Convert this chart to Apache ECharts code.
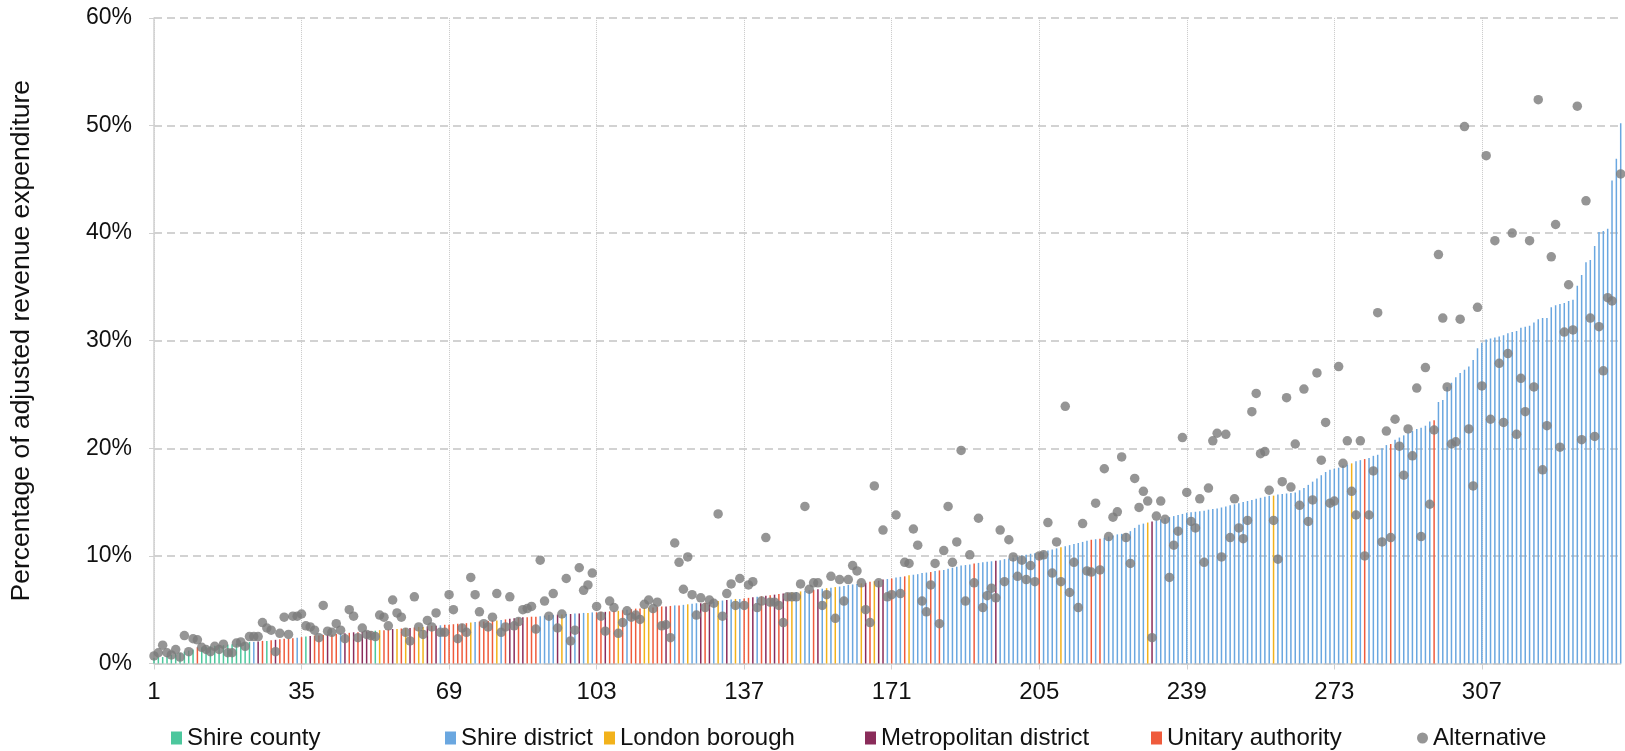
<!DOCTYPE html>
<html><head><meta charset="utf-8">
<script src="https://cdn.jsdelivr.net/npm/echarts@6/dist/echarts.min.js"></script>
<style>html,body{margin:0;padding:0;background:#fff}#c{width:1625px;height:751px}</style>
</head><body><div id="c"></div>
<script>
// Bar heights (% of adjusted revenue expenditure), categories 1..339, sorted ascending
const barValues = [
  0.5,0.6,0.6,0.7,0.8,0.9,1.0,1.1,1.2,1.3, 1.5,1.5,1.55,1.6,1.65,1.7,1.7,1.75,1.8,1.85, 1.9,1.95,2.0,2.0,2.05,2.1,2.1,2.15,2.2,2.25, 2.3,2.3,2.35,2.4,
  2.45,2.5,2.55,2.6,2.6,2.65,2.7,2.7,2.75,2.8, 2.8,2.85,2.9,2.9,2.95,3.0,3.0,3.05,3.1,3.1, 3.15,3.2,3.2,3.25,3.3,3.3,3.35,3.4,3.4,3.45, 3.5,3.5,3.55,3.6,
  3.6,3.65,3.7,3.7,3.75,3.8,3.85,3.9,3.9,3.95, 4.0,4.0,4.05,4.1,4.15,4.2,4.25,4.3,4.3,4.35, 4.35,4.4,4.45,4.5,4.5,4.55,4.55,4.6,4.6,4.65, 4.65,4.7,4.7,4.75,
  4.75,4.8,4.8,4.85,4.9,4.9,4.95,5.0,5.05,5.1, 5.1,5.15,5.2,5.2,5.25,5.3,5.3,5.35,5.4,5.4, 5.45,5.5,5.55,5.6,5.6,5.65,5.7,5.75,5.8,5.85, 5.9,5.95,6.0,6.0,
  6.05,6.1,6.15,6.2,6.25,6.3,6.35,6.4,6.45,6.5, 6.55,6.6,6.65,6.7,6.75,6.8,6.85,6.9,6.95,7.0, 7.05,7.1,7.15,7.2,7.3,7.35,7.4,7.45,7.5,7.6, 7.65,7.7,7.8,7.85,
  7.9,8.0,8.05,8.1,8.2,8.25,8.3,8.4,8.45,8.5, 8.6,8.65,8.7,8.8,8.9,9.0,9.1,9.15,9.2,9.3, 9.35,9.4,9.45,9.5,9.55,9.6,9.7,9.75,9.85,9.95, 10.05,10.1,10.2,10.25,
  10.3,10.4,10.5,10.6,10.7,10.8,10.9,11.0,11.1,11.2, 11.3,11.4,11.5,11.55,11.6,11.7,11.8,11.9,12.0,12.05, 12.1,12.3,12.6,12.9,13.0,13.1,13.2,13.3,13.4,13.5, 13.6,13.7,13.8,13.9,
  14.0,14.05,14.1,14.15,14.2,14.3,14.35,14.4,14.5,14.6, 14.7,14.8,14.9,15.0,15.1,15.2,15.3,15.4,15.5,15.6, 15.6,15.7,15.75,15.8,15.85,15.9,16.1,16.3,16.6,16.9, 17.2,17.5,17.8,18.0,
  18.1,18.2,18.4,18.5,18.6,18.8,18.9,19.0,19.1,19.3, 19.4,20.0,20.3,20.4,20.8,21.0,21.2,21.4,21.6,21.8, 21.9,22.1,22.5,22.6,24.3,24.5,25.7,26.1,26.6,27.0, 27.3,27.6,28.2,29.3,
  29.8,30.1,30.2,30.3,30.4,30.5,30.7,30.8,30.9,31.2, 31.3,31.4,31.7,32.0,32.1,32.1,33.1,33.3,33.4,33.5, 33.7,33.8,35.1,36.1,37.3,37.5,38.8,40.1,40.2,40.4, 44.9,46.9,50.2
];
// Authority type of each bar: C shire county, D shire district, L London borough, M metropolitan district, U unitary authority
const barTypes = (
  "CCCCCCCCCCUCCCCCCCCCCCCDMUCUMUUUUD" +
  "UCMUUUMUUDMUMUMMUCLUUMLULMULLMUMDU" +
  "UUUUULDUUUULDUMMUMUUUDDDDMLDMDMDLD" +
  "UUMUULUDUUULLUUUMUDUDLDDMUMDLDMDLD" +
  "UUMDUMUMUMULDLDDUMDLDLDDDDDLMULMMD" +
  "UDDULDDDDUDUDDDDDDDUDDDDMDDDDDDDDD" +
  "UDDDDLDDDDDDUDUDDDDDDDDDDLMDDDDDDD" +
  "DDDDDDDDDDDDDDDDDDDDLDDDDDDDDDDDDD" +
  "DDDDLDDUDDDDDUDDDDDDDDDUDDDDDDDDDD" +
  "DDDDDDDDDDDDDDDDDDDDDDDDDDDDDDDDD"
).split('');
// Alternative measure (grey dots), categories 1..339
const altValues = [
  0.7,1.0,1.7,1.0,0.8,1.3,0.6,2.6,1.1,2.3, 2.2,1.5,1.3,1.1,1.6,1.3,1.8,1.0,1.0,1.9, 2.0,1.6,2.5,2.5,2.5,3.8,3.3,3.1,1.1,2.8, 4.3,2.7,4.4,4.4,
  4.6,3.5,3.4,3.1,2.4,5.4,3.0,2.9,3.7,3.1, 2.3,5.0,4.4,2.4,3.3,2.7,2.6,2.5,4.5,4.3, 3.5,5.9,4.7,4.3,2.9,2.1,6.2,3.4,2.7,4.0, 3.4,4.7,2.9,2.9,
  6.4,5.0,2.3,3.3,2.9,8.0,6.4,4.8,3.7,3.4, 4.3,6.5,2.9,3.4,6.2,3.5,3.9,5.0,5.1,5.3, 3.2,9.6,5.8,4.4,6.5,3.3,4.6,7.9,2.1,3.1, 8.9,6.8,7.3,8.4,
  5.3,4.4,3.0,5.8,5.2,2.8,3.8,4.9,4.3,4.5, 4.1,5.5,5.9,5.1,5.7,3.5,3.6,2.4,11.2,9.4, 6.9,9.9,6.4,4.5,6.1,5.2,5.9,5.6,13.9,4.4, 6.5,7.4,5.4,7.9,
  5.4,7.3,7.6,5.2,5.8,11.7,5.7,5.7,5.4,3.8, 6.2,6.2,6.2,7.4,14.6,6.9,7.5,7.5,5.4,6.4, 8.1,4.2,7.8,5.8,7.8,9.1,8.6,7.5,5.0,3.8, 16.5,7.5,12.4,6.2,
  6.4,13.8,6.5,9.4,9.3,12.5,11.0,5.8,4.8,7.3, 9.3,3.7,10.5,14.6,9.4,11.3,19.8,5.8,10.1,7.5, 13.5,5.2,6.3,7.0,6.1,12.4,7.6,11.5,9.9,8.1, 9.6,7.8,9.1,7.6,
  10.0,10.1,13.1,8.4,11.3,7.6,23.9,6.6,9.4,5.2, 13.0,8.6,8.5,14.9,8.7,18.1,11.8,13.6,14.1,19.2, 11.7,9.3,17.2,14.5,16.0,15.1,2.4,13.7,15.1,13.4, 8.0,11.0,12.3,21.0,
  15.9,13.2,12.6,15.3,9.4,16.3,20.7,21.4,9.9,21.3, 11.7,15.3,12.6,11.6,13.3,23.4,25.1,19.5,19.7,16.1, 13.3,9.7,16.9,24.7,16.4,20.4,14.7,25.5,13.2,15.2, 27.0,18.9,22.4,14.9,
  15.1,27.6,18.6,20.7,16.0,13.8,20.7,10.0,13.8,17.9, 32.6,11.3,21.6,11.7,22.7,20.2,17.5,21.8,19.3,25.6, 11.8,27.5,14.8,21.7,38.0,32.1,25.7,20.4,20.6,32.0, 49.9,21.8,16.5,33.1,
  25.8,47.2,22.7,39.3,27.9,22.4,28.8,40.0,21.3,26.5, 23.4,39.3,25.7,52.4,18.0,22.1,37.8,40.8,20.1,30.8, 35.2,31.0,51.8,20.8,43.0,32.1,21.1,31.3,27.2,34.0, 33.7,null,45.5
];
const categories = barValues.map((v, i) => String(i + 1));
const typeCodes = ['C', 'D', 'L', 'M', 'U'];
const typeNames = ['Shire county', 'Shire district', 'London borough', 'Metropolitan district', 'Unitary authority'];
const typeColors = ['#4cc79d', '#6aa7e0', '#f2b21b', '#8a2c5a', '#ef5b3c'];
const altName = 'Alternative';
const legendLefts = [171, 445, 604, 865, 1151, 1417];

const FONT = 'Liberation Sans, Arial, sans-serif';
const chart = echarts.init(document.getElementById('c'), null, {renderer: 'canvas'});

const series = typeCodes.map((t, k) => ({
  name: typeNames[k], type: 'bar', barWidth: 1.5, barGap: '-100%',
  itemStyle: {color: typeColors[k]},
  data: barValues.map((v, i) => barTypes[i] === t ? v : '-'),
  animation: false
}));
series.push({
  name: altName, type: 'scatter', symbol: 'circle', symbolSize: 9.5, z: 5,
  itemStyle: {color: '#7a7a7a'},
  data: altValues.map(v => v === null ? '-' : v),
  animation: false
});

const legendNames = typeNames.concat([altName]);
chart.setOption({
  backgroundColor: '#fff',
  animation: false,
  textStyle: {fontFamily: FONT},
  grid: {left: 153.4, right: 4.3, top: 17.9, bottom: 87.5, containLabel: false},
  legend: legendNames.map((n, k) => ({
    data: [{name: n, icon: k === 5 ? 'circle' : 'rect'}],
    left: legendLefts[k], top: 726, padding: 0, itemWidth: 11, itemHeight: 13, itemGap: 0,
    selectedMode: false,
    textStyle: {fontSize: 24, color: '#111', fontFamily: FONT}
  })),
  xAxis: {
    type: 'category', data: categories, boundaryGap: false,
    axisLabel: {interval: 33, fontSize: 24, color: '#111', margin: 17, fontFamily: FONT},
    axisTick: {show: true, interval: 33, length: 6, lineStyle: {color: '#d0d0d0'}},
    axisLine: {lineStyle: {color: '#d0d0d0', width: 1.5}},
    splitLine: {show: true, interval: 33, lineStyle: {color: '#c8c8c8', type: 'dotted', width: 1}}
  },
  yAxis: {
    type: 'value', min: 0, max: 60, interval: 10,
    name: 'Percentage of adjusted revenue expenditure', nameLocation: 'middle', nameGap: 119,
    nameTextStyle: {fontSize: 26.5, color: '#111', fontFamily: FONT},
    axisLabel: {formatter: '{value}%', fontSize: 23, color: '#111', margin: 22, fontFamily: FONT},
    axisLine: {show: true, lineStyle: {color: '#d0d0d0', width: 1.5}},
    axisTick: {show: true, length: 5, lineStyle: {color: '#d0d0d0'}},
    splitLine: {lineStyle: {color: '#c4c4c4', type: [8, 5], width: 1.5}}
  },
  series: series
});
</script>
</body></html>
